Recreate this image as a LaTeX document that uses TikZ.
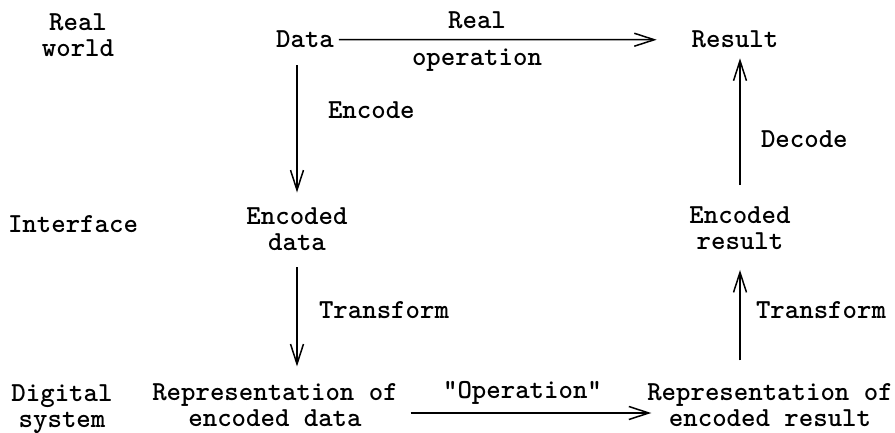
\documentclass[tikz,border=0pt]{standalone}
\usetikzlibrary{arrows.meta}
\begin{document}
\begin{tikzpicture}[x=1pt,y=-1pt]
% Definição de estilos
\tikzset{
  layer/.style={align=center, inner sep=0pt, outer sep=0pt, font=\ttfamily\bfseries\fontsize{27.5}{26}\selectfont},
  stage/.style={align=center, inner sep=0pt, outer sep=0pt, font=\ttfamily\bfseries\fontsize{27.5}{26}\selectfont},
  flowlabel/.style={inner sep=0pt, outer sep=0pt, font=\ttfamily\bfseries\fontsize{27.5}{26}\selectfont},
  flow/.style={line width=1.5pt, -{Straight Barb[length=20pt,width=13pt]}}
}
\useasboundingbox (0,0) rectangle (895,433);

% Níveis
\node[layer] (realw) at (78,35) {Real\\world};
\node[layer, anchor=base] (iface) at (73,233) {Interface};
\node[layer] (digsys) at (62,409) {Digital\\system};

% Estados
\node[stage, anchor=base] (data) at (305,48) {Data};
\node[stage, anchor=base] (result) at (735,48) {Result};
\node[stage] (encdata) at (297,229) {Encoded\\data};
\node[stage] (encres) at (740,228.5) {Encoded\\result};
\node[stage] (repdata) at (275,405) {Representation of\\encoded data};
\node[stage] (represult) at (770,405) {Representation of\\encoded result};

% Operação real
\draw[flow, shorten <=5pt, shorten >=35pt] (data.east) --
  node[flowlabel, above=10.5pt, pos=0.4] (realop) {Real}
  node[flowlabel, below=9.5pt, pos=0.4] (realop2) {operation} (result.west);

% Codificação
\draw[flow, shorten <=17pt, shorten >=15pt] (data.south -| encdata) --
  node[flowlabel, right=31pt, pos=0.39] (enc) {Encode} (encdata.north);
\draw[flow, shorten <=17pt, shorten >=17pt] (encdata.south) --
  node[flowlabel, right=22pt, pos=0.45] (trdata) {Transform} (encdata.south |- repdata.north);

% Operação no sistema
\draw[flow, shorten <=13pt, shorten >=-4pt] ([yshift=-8pt]repdata.east) --
  node[flowlabel, above=9pt] (op) {"Operation"} ([yshift=-8pt]represult.west);

% Decodificação
\draw[flow, shorten <=23pt, shorten >=20pt] (encres.south |- represult.north) --
  node[flowlabel, right=16pt, pos=0.55] (trres) {Transform} (encres.south);
\draw[flow, shorten <=22pt, shorten >=10pt] (encres.north) --
  node[flowlabel, right=21pt, pos=0.43] (dec) {Decode} (result.south -| encres);

\end{tikzpicture}
\end{document}
